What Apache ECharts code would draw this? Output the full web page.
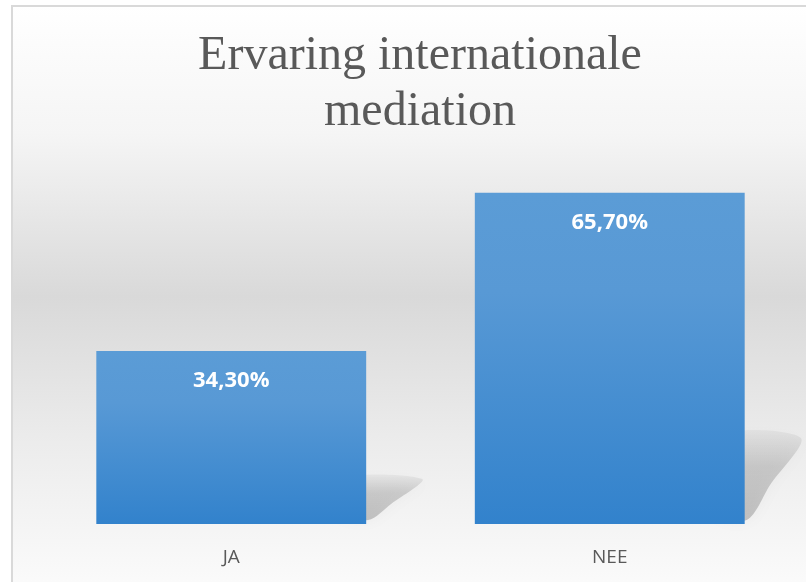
<!DOCTYPE html>
<html>
<head>
<meta charset="utf-8">
<script src="https://cdn.jsdelivr.net/npm/echarts@6/dist/echarts.min.js"></script>
<style>
  html, body { margin: 0; padding: 0; background: #fff; }
  #chart { width: 806px; height: 582px; }
</style>
</head>
<body>
<div id="chart"></div>
<script>
var categories = ['JA', 'NEE'];
var values = [34.3, 65.7];
var titleLines = ['Ervaring internationale', 'mediation'];

var myChart = echarts.init(document.getElementById('chart'));

function fmt(v) {
  return v.toFixed(2).replace('.', ',') + '%';
}

// slanted floor shadow to the right of each bar
function renderShadow(params, api) {
  var idx = api.value(0);
  var v = api.value(1);
  var base = api.coord([idx, 0]);
  var top = api.coord([idx, v]);
  var w = api.size([1, 0])[0] * 0.713;
  var h = base[1] - top[1];
  var right = base[0] + w / 2;
  var dx = 56;
  var sh = h * 0.26;
  return {
    type: 'polygon',
    shape: {
      points: [
        [right - 30, base[1] - 12],
        [right - 30, base[1] - sh],
        [right + dx, base[1] - sh],
        [right + dx * 0.45, base[1] - sh * 0.45],
        [right + 2, base[1] - 4]
      ],
      smooth: 0.3
    },
    style: {
      fill: new echarts.graphic.LinearGradient(0, 1, 0, 0, [
        {offset: 0, color: 'rgba(0,0,0,0.2)'},
        {offset: 0.6, color: 'rgba(0,0,0,0.15)'},
        {offset: 1, color: 'rgba(0,0,0,0.04)'}
      ]),
      shadowBlur: 14,
      shadowColor: 'rgba(0,0,0,0.18)'
    },
    z2: 0
  };
}

myChart.setOption({
  animation: false,
  graphic: [
    {
      type: 'rect',
      z: -10,
      shape: {x: 12, y: 6, width: 806, height: 582},
      style: {
        fill: new echarts.graphic.LinearGradient(0, 0, 0, 1, [
          {offset: 0, color: '#ffffff'},
          {offset: 0.22, color: '#f5f5f5'},
          {offset: 0.5, color: '#d9d9d9'},
          {offset: 0.75, color: '#ececec'},
          {offset: 1, color: '#fbfbfb'}
        ]),
        stroke: '#d9d9d9',
        lineWidth: 2
      }
    },
    {
      type: 'text',
      z: 10,
      x: 420,
      y: 28,
      style: {
        text: titleLines.join('\n'),
        textAlign: 'center',
        font: '48px "Liberation Serif", "Times New Roman", serif',
        lineHeight: 56,
        fill: '#595959'
      }
    }
  ],
  grid: {
    left: 42,
    right: 7,
    top: 171,
    bottom: 58
  },
  xAxis: {
    type: 'category',
    data: categories,
    axisLine: {show: false},
    axisTick: {show: false},
    axisLabel: {
      color: '#595959',
      fontSize: 19,
      fontFamily: '"Open Sans", "Noto Sans", sans-serif',
      margin: 24
    }
  },
  yAxis: {
    type: 'value',
    min: 0,
    max: 70,
    show: false,
    splitLine: {show: false}
  },
  series: [
    {
      type: 'custom',
      renderItem: renderShadow,
      data: values.map(function (v, i) { return [i, v]; }),
      z: 1,
      silent: true
    },
    {
      type: 'bar',
      data: values,
      barWidth: '71.3%',
      z: 2,
      itemStyle: {
        color: new echarts.graphic.LinearGradient(0, 0, 0, 1, [
          {offset: 0, color: '#5b9cd6'},
          {offset: 0.3, color: '#5899d5'},
          {offset: 1, color: '#3282cc'}
        ])
      },
      label: {
        show: true,
        position: 'insideTop',
        distance: 19,
        color: '#ffffff',
        fontSize: 22,
        fontWeight: 'bold',
        fontFamily: '"Open Sans", "Noto Sans", sans-serif',
        formatter: function (p) { return fmt(p.value); }
      }
    }
  ]
});
</script>
</body>
</html>
